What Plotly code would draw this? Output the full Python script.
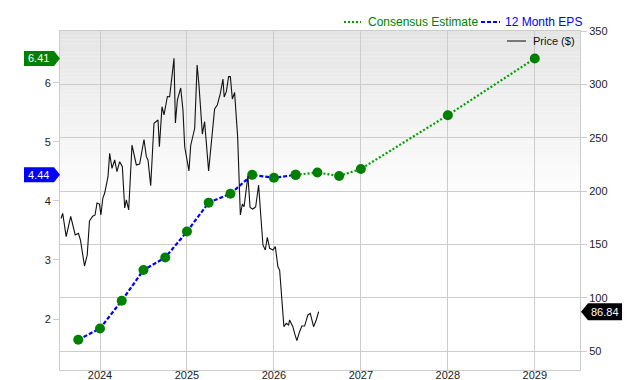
import plotly.graph_objects as go

# ---------------- data ----------------
years = [2024, 2025, 2026, 2027, 2028, 2029]
year_labels = ["2024", "2025", "2026", "2027", "2028", "2029"]

eps_t = [2023.75, 2024.0, 2024.25, 2024.5, 2024.75, 2025.0, 2025.25, 2025.5,
         2025.75, 2026.0, 2026.25]
eps_v = [1.65, 1.84, 2.31, 2.83, 3.04, 3.48, 3.97, 4.12, 4.44, 4.39, 4.44]

est_t = [2026.25, 2026.5, 2026.75, 2027.0, 2028.0, 2029.0]
est_v = [4.44, 4.48, 4.42, 4.54, 5.45, 6.41]

price_t = [2023.552, 2023.571, 2023.611, 2023.663, 2023.715, 2023.752, 2023.775, 2023.822,
           2023.853, 2023.879, 2023.916, 2023.943, 2023.966, 2023.994, 2024.010, 2024.033,
           2024.054, 2024.092, 2024.111, 2024.138, 2024.169, 2024.195, 2024.226, 2024.257,
           2024.284, 2024.303, 2024.330, 2024.368, 2024.418, 2024.456, 2024.506, 2024.533,
           2024.552, 2024.583, 2024.621, 2024.667, 2024.683, 2024.713, 2024.736, 2024.775,
           2024.801, 2024.821, 2024.851, 2024.867, 2024.890, 2024.928, 2024.954, 2024.974,
           2024.993, 2025.023, 2025.043, 2025.069, 2025.089, 2025.117, 2025.138, 2025.177,
           2025.203, 2025.249, 2025.280, 2025.318, 2025.349, 2025.384, 2025.414, 2025.428,
           2025.453, 2025.479, 2025.499, 2025.522, 2025.548, 2025.583, 2025.614, 2025.637,
           2025.657, 2025.701, 2025.726, 2025.755, 2025.790, 2025.824, 2025.847, 2025.874,
           2025.901, 2025.924, 2025.951, 2025.989, 2026.016, 2026.046, 2026.066, 2026.115,
           2026.142, 2026.169, 2026.180, 2026.218, 2026.238, 2026.264, 2026.295, 2026.322,
           2026.353, 2026.391, 2026.418, 2026.456, 2026.487, 2026.514]
price_v = [174.2, 179.1, 157.2, 176.3, 158.8, 160.3, 154.1, 129.7,
           140.0, 171.9, 176.3, 177.5, 188.8, 187.8, 177.5, 193.4,
           198.1, 213.4, 235.3, 221.3, 229.1, 218.1, 227.5, 222.8,
           184.1, 191.6, 182.2, 243.1, 224.4, 225.3, 248.3, 232.2,
           229.1, 205.0, 263.5, 266.6, 241.5, 279.0, 271.3, 288.6,
           288.4, 301.0, 324.4, 263.8, 285.3, 296.6, 275.9, 241.5,
           233.8, 218.8, 242.7, 250.9, 258.8, 318.1, 299.4, 253.4,
           265.0, 218.8, 245.5, 276.9, 280.6, 291.6, 305.0, 288.1,
           293.1, 307.2, 307.2, 286.3, 292.3, 250.6, 177.5, 187.8,
           185.3, 214.1, 184.5, 183.1, 185.0, 205.6, 179.1, 149.4,
           144.7, 156.6, 146.3, 144.7, 147.8, 129.0, 125.9, 72.8,
           76.0, 74.4, 79.1, 72.8, 66.6, 59.7, 68.1, 73.4,
           73.4, 83.8, 85.3, 72.8, 79.1, 86.84]

eps_ticks = [2, 3, 4, 5, 6]
price_ticks = [50, 100, 150, 200, 250, 300, 350]

# ---------------- styling ----------------
FONT = "Liberation Sans, Arial, sans-serif"
GREEN = "#008000"
DOT_GREEN = "#00a000"
BLUE = "#0000ff"
GRID = "#cccccc"
W, H = 640, 380
ML, MR, MT, MB = 60, 60, 31, 10
PW, PH = W - ML - MR, H - MT - MB

x_range = [2023.54, 2029.52]
y_range = [1.137, 6.875]
y2_range = [32.2, 350]


def px_x(px):
    return (px - ML) / PW


def px_y(py):
    return (H - MB - py) / PH


def val_y(v, rng):
    return (v - rng[0]) / (rng[1] - rng[0])


fig = go.Figure()

fig.add_trace(go.Scatter(
    x=eps_t, y=eps_v, mode="lines+markers", yaxis="y",
    line=dict(color=BLUE, width=2.2, dash="4px,2px"),
    marker=dict(color=GREEN, size=10), showlegend=False, hoverinfo="skip"))

fig.add_trace(go.Scatter(
    x=est_t, y=est_v, mode="lines+markers", yaxis="y",
    line=dict(color=DOT_GREEN, width=2.2, dash="2px,2px"),
    marker=dict(color=GREEN, size=10), showlegend=False, hoverinfo="skip"))

fig.add_trace(go.Scatter(
    x=price_t, y=price_v, mode="lines", yaxis="y2",
    line=dict(color="#111111", width=1.1), showlegend=False, hoverinfo="skip"))

shapes = []
# gradient background at top of plot
n = 40
for i in range(n):
    top = 1 - i * 0.5 / n
    bot = 1 - (i + 1) * 0.5 / n
    c = int(229 + (255 - 229) * (i + 0.5) / n)
    shapes.append(dict(type="rect", xref="x domain", yref="y domain",
                       x0=0, x1=1, y0=bot, y1=top, layer="below",
                       line=dict(width=0), fillcolor=f"rgb({c},{c},{c})"))

annotations = []


def badge_left(value, color):
    yc = val_y(value, y_range)
    h = 7.5 / PH
    xr = px_x(54)
    xt = px_x(60)
    xl = px_x(24)
    path = (f"M {xl} {yc - h} L {xr} {yc - h} L {xt} {yc} L {xr} {yc + h} "
            f"L {xl} {yc + h} Z")
    shapes.append(dict(type="path", xref="paper", yref="paper", path=path,
                       fillcolor=color, line=dict(width=0), layer="above"))
    annotations.append(dict(x=px_x(26), y=yc, xref="paper", yref="paper",
                            text=f"{value:.2f}", showarrow=False, xanchor="left",
                            yanchor="middle",
                            font=dict(family=FONT, size=11, color="white")))


def badge_right(value, color):
    yc = val_y(value, y2_range)
    h = 8.5 / PH
    xt = px_x(581)
    xl = px_x(588)
    xr = px_x(622)
    path = (f"M {xt} {yc} L {xl} {yc - h} L {xr} {yc - h} L {xr} {yc + h} "
            f"L {xl} {yc + h} Z")
    shapes.append(dict(type="path", xref="paper", yref="paper", path=path,
                       fillcolor=color, line=dict(width=0), layer="above"))
    annotations.append(dict(x=px_x(605), y=yc, xref="paper", yref="paper",
                            text=f"{value:.2f}", showarrow=False, xanchor="center",
                            yanchor="middle",
                            font=dict(family=FONT, size=11, color="white")))


badge_left(est_v[-1], GREEN)
badge_left(eps_v[-1], BLUE)
badge_right(price_v[-1], "#000000")

# legend (top)
ly = px_y(22)
shapes.append(dict(type="line", xref="paper", yref="paper", x0=px_x(344), x1=px_x(361),
                   y0=ly, y1=ly, line=dict(color=DOT_GREEN, width=2, dash="2px,2px")))
annotations.append(dict(x=px_x(366), y=ly, xref="paper", yref="paper",
                        text="Consensus Estimate", showarrow=False, xanchor="left",
                        yanchor="middle", font=dict(family=FONT, size=12, color=GREEN)))
shapes.append(dict(type="line", xref="paper", yref="paper", x0=px_x(481), x1=px_x(500),
                   y0=ly, y1=ly, line=dict(color=BLUE, width=2, dash="4px,2px")))
annotations.append(dict(x=px_x(503), y=ly, xref="paper", yref="paper",
                        text="12 Month EPS", showarrow=False, xanchor="left",
                        yanchor="middle", font=dict(family=FONT, size=12, color=BLUE)))
py_ = px_y(41)
shapes.append(dict(type="line", xref="paper", yref="paper", x0=px_x(507), x1=px_x(526),
                   y0=py_, y1=py_, line=dict(color="#777777", width=2)))
annotations.append(dict(x=px_x(531), y=py_, xref="paper", yref="paper",
                        text="Price ($)", showarrow=False, xanchor="left",
                        yanchor="middle", font=dict(family=FONT, size=11, color="#111111")))

fig.update_layout(
    width=W, height=H,
    margin=dict(l=ML, r=MR, t=MT, b=MB, autoexpand=False),
    paper_bgcolor="white", plot_bgcolor="white",
    font=dict(family=FONT, size=11, color="#222222"),
    showlegend=False,
    shapes=shapes, annotations=annotations,
    xaxis=dict(range=x_range, tickvals=years, ticktext=year_labels,
               showgrid=True, gridcolor=GRID, gridwidth=1, automargin=False,
               showline=True, linecolor=GRID, mirror=True, linewidth=1,
               ticks="", zeroline=False, ticklabelstandoff=-5,
               tickfont=dict(size=11, color="#222222")),
    yaxis=dict(range=y_range, tickvals=eps_ticks, showgrid=False, automargin=False,
               showline=True, linecolor=GRID, linewidth=1,
               ticks="outside", ticklen=6, tickcolor=GRID, zeroline=False,
               tickfont=dict(size=11, color="#222222")),
    yaxis2=dict(range=y2_range, tickvals=price_ticks, overlaying="y", side="right",
                showgrid=True, gridcolor=GRID, gridwidth=1, automargin=False,
                showline=True, linecolor=GRID, linewidth=1,
                ticks="outside", ticklen=6, tickcolor=GRID, zeroline=False,
                tickfont=dict(size=11, color="#222222")),
)

fig.write_html("out.html")
